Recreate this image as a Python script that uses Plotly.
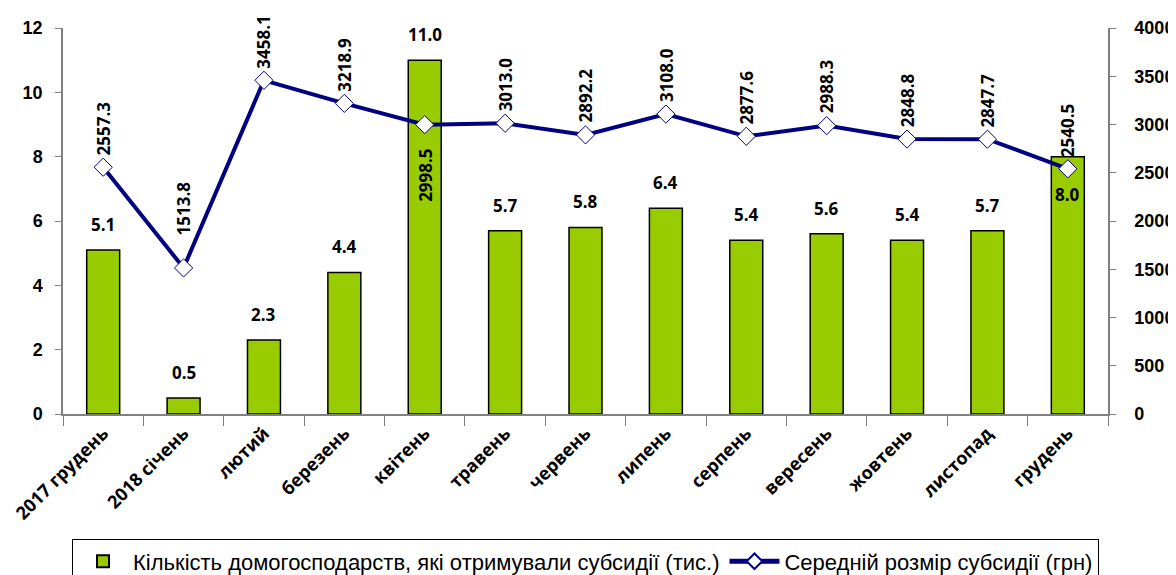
import plotly.graph_objects as go

categories = ["2017 грудень", "2018 січень", "лютий", "березень", "квітень", "травень",
              "червень", "липень", "серпень", "вересень", "жовтень", "листопад", "грудень"]
households = [5.1, 0.5, 2.3, 4.4, 11.0, 5.7, 5.8, 6.4, 5.4, 5.6, 5.4, 5.7, 8.0]
avg_subsidy = [2557.3, 1513.8, 3458.1, 3218.9, 2998.5, 3013.0, 2892.2, 3108.0,
               2877.6, 2988.3, 2848.8, 2847.7, 2540.5]
bar_name = "Кількість домогосподарств, які отримували субсидії (тис.)"
line_name = "Середній розмір субсидії (грн)"

LABEL_FONT = dict(family="Open Sans", size=17, color="black")

fig = go.Figure()
fig.add_trace(go.Bar(
    x=categories, y=households, name=bar_name,
    marker=dict(color="#99CC00", line=dict(color="black", width=1.5)),
    width=0.41,
))
fig.add_trace(go.Scatter(
    x=categories, y=avg_subsidy, name=line_name, yaxis="y2",
    mode="lines+markers",
    line=dict(color="#000080", width=4),
    marker=dict(symbol="diamond", size=14, color="white",
                line=dict(color="#000080", width=1)),
))

annotations = []
for i, (c, v) in enumerate(zip(categories, households)):
    if i == len(categories) - 1:
        annotations.append(dict(x=c, y=v, xref="x", yref="y", text=f"<b>{v:.1f}</b>",
                                showarrow=False, yanchor="top", yshift=-24, font=LABEL_FONT))
    else:
        annotations.append(dict(x=c, y=v, xref="x", yref="y", text=f"<b>{v:.1f}</b>",
                                showarrow=False, yanchor="bottom", yshift=12, font=LABEL_FONT))
for i, (c, v) in enumerate(zip(categories, avg_subsidy)):
    if categories[i] == "квітень":
        annotations.append(dict(x=c, y=v, xref="x", yref="y2", text=f"<b>{v:.1f}</b>",
                                showarrow=False, yanchor="top", yshift=-22, textangle=-90,
                                font=LABEL_FONT))
    else:
        shift = 30 if i == 1 else 10
        annotations.append(dict(x=c, y=v, xref="x", yref="y2", text=f"<b>{v:.1f}</b>",
                                showarrow=False, yanchor="bottom", yshift=shift, textangle=-90,
                                font=LABEL_FONT))

AXIS_FONT = dict(family="Liberation Sans", size=18, color="black", weight="bold")

fig.update_layout(
    width=1168, height=567,
    margin=dict(l=55, r=68, t=20, b=161, autoexpand=False),
    paper_bgcolor="white", plot_bgcolor="white",
    showlegend=True,
    legend=dict(orientation="h", x=0.5, xanchor="center", y=-0.325, yanchor="top",
                bordercolor="black", borderwidth=1,
                font=dict(family="Liberation Sans", size=22, color="black"),
                traceorder="normal", itemsizing="constant", itemwidth=50),
    xaxis=dict(
        type="category", showline=True, linecolor="#808080", linewidth=1.5,
        ticks="outside", tickson="boundaries", ticklen=10, tickcolor="#808080",
        tickangle=-45, tickfont=dict(family="Open Sans", size=18, color="black", weight="bold"),
        showgrid=False, range=[-0.5, 12.5], automargin=False,
    ),
    yaxis=dict(
        range=[0, 12], dtick=2, showline=True, linecolor="#808080", linewidth=1.5,
        ticks="outside", ticklen=6, tickcolor="#808080", showgrid=False, zeroline=False,
        tickfont=AXIS_FONT, ticklabelstandoff=9, automargin=False,
    ),
    yaxis2=dict(
        range=[0, 4000], dtick=500, overlaying="y", side="right", showline=True,
        linecolor="#808080", linewidth=1.5, ticks="outside", ticklen=6, tickcolor="#808080",
        showgrid=False, zeroline=False, tickfont=AXIS_FONT, ticklabelstandoff=15,
        automargin=False,
    ),
    annotations=annotations,
    bargap=0.59,
)

fig.write_html("out.html")
